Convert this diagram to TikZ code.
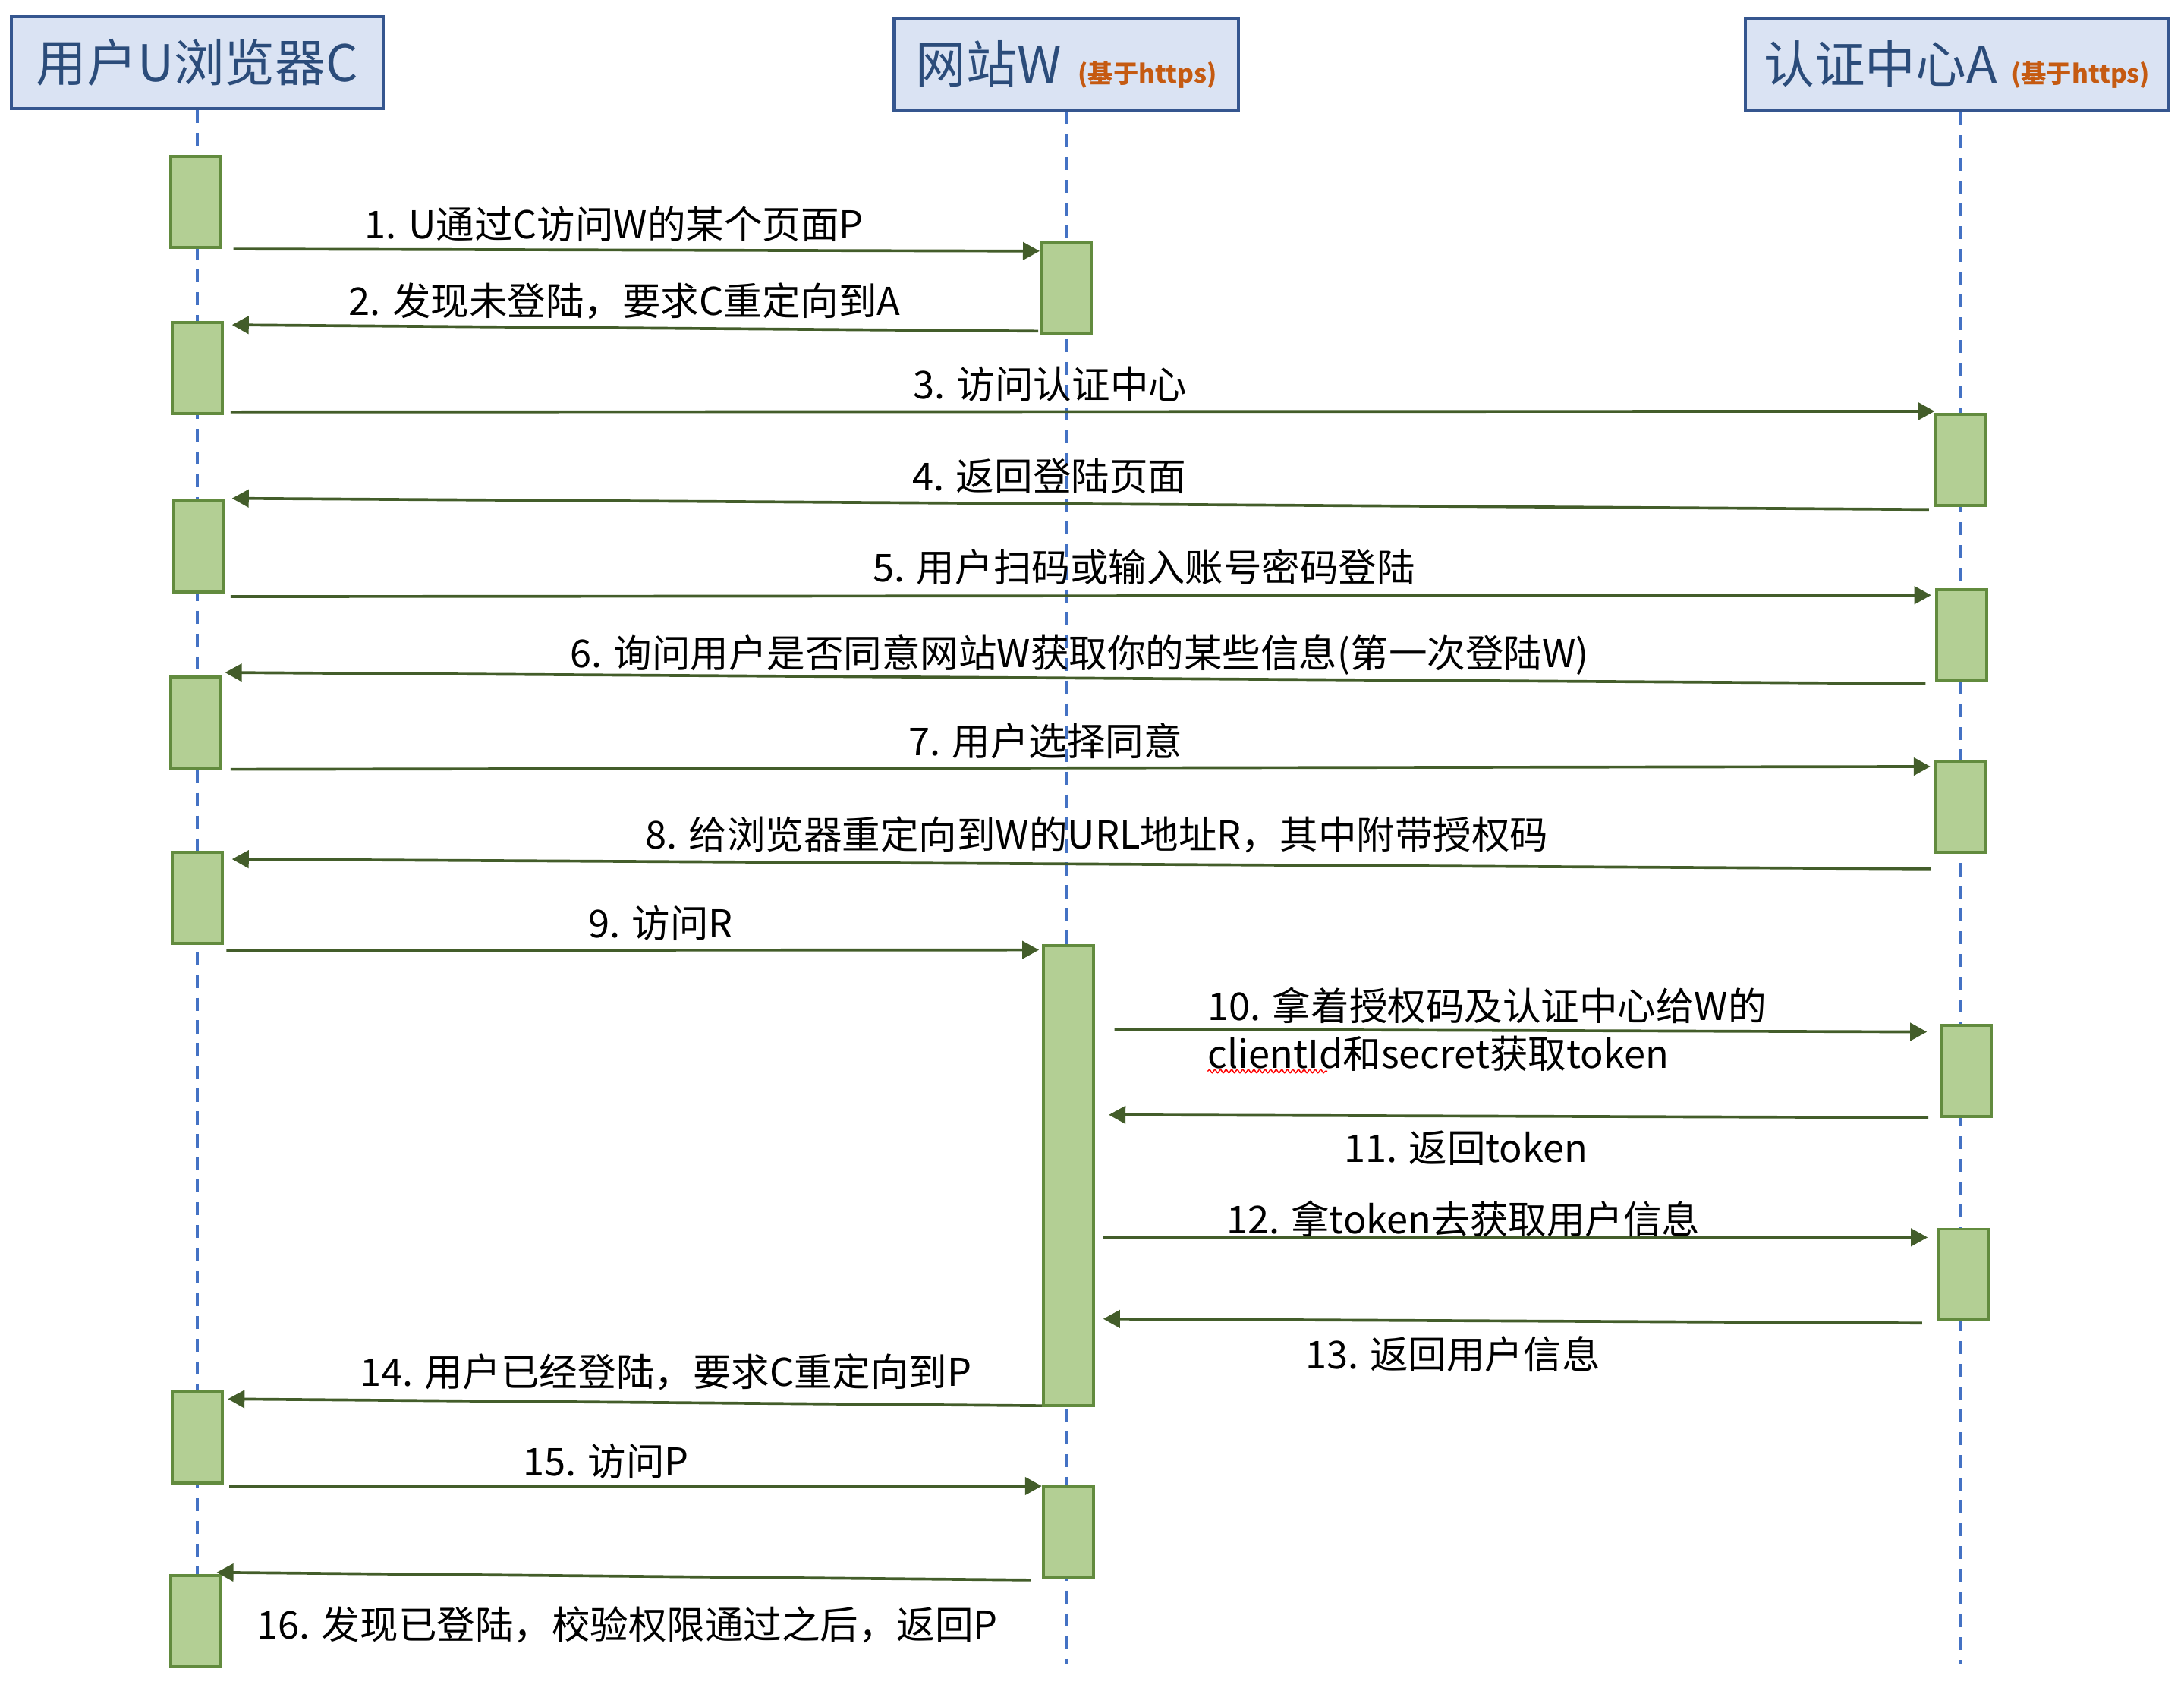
\documentclass[tikz,border=0pt]{standalone}
\usepackage{fontspec}
\setmainfont{Noto Sans CJK SC}
\usepackage{tikz}
\usetikzlibrary{arrows.meta,calc,decorations.pathmorphing}
\definecolor{headfill}{HTML}{DAE3F3}
\definecolor{headline}{HTML}{35568F}
\definecolor{headtext}{HTML}{2B4C7A}
\definecolor{httpsnote}{HTML}{C55A11}
\definecolor{actfill}{HTML}{B3CF94}
\definecolor{actline}{HTML}{628B3E}
\definecolor{msgline}{HTML}{435D2A}
\definecolor{lifeblue}{HTML}{4472C4}
\newcommand\headfont{\fontsize{31}{36}\selectfont}
\newcommand\lblfont{\fontsize{23.5}{29}\selectfont}
\newcommand\viahttps{{\fontsize{15.5}{18}\selectfont\bfseries\color{httpsnote}(基于https)}}
\tikzset{
  headbox/.style={draw=headline,line width=0.7mm,fill=headfill,text=headtext,
                  font=\headfont,minimum height=19.8mm,inner sep=0pt},
  act/.style    ={draw=actline,line width=0.65mm,fill=actfill,
                  minimum width=10.8mm,minimum height=19.6mm,inner sep=0pt},
  life/.style   ={draw=lifeblue,line width=0.65mm,dash pattern=on 2.8mm off 2.1mm},
  msg/.style    ={-{Triangle[length=3.6mm,width=3.8mm]},line width=0.6mm,draw=msgline},
  lbl/.style    ={font=\lblfont,inner sep=0pt,text height=20pt,text depth=2.3pt},
  spell/.style  ={draw=red,line width=0.25mm,decorate,
                  decoration={snake,amplitude=0.35mm,segment length=1.2mm}}
}
\begin{document}
\begin{tikzpicture}[x=0.3mm,y=-0.3mm]
  \useasboundingbox (0,0) rectangle (1568,1216);
  % participants
  \node[headbox,minimum width=80.1mm] (hc) at (141.5,45) {用户U浏览器C};
  \node[headbox,minimum width=74.1mm] (hw) at (765.5,46) {网站W\hspace{3.6mm}\viahttps};
  \node[headbox,minimum width=91.2mm] (ha) at (1405,46.5) {认证中心A\hspace{3mm}\viahttps};
  % lifelines
  \coordinate (bottom) at (0,1195);
  \coordinate (la) at ($(ha.south)+(3,0)$);
  \draw[life] (hc.south) -- (hc.south |- bottom);
  \draw[life] (hw.south) -- (hw.south |- bottom);
  \draw[life] (la) -- (la |- bottom);
  % activations
  \node[act] (c1) at (140.5,145) {};
  \node[act] (c2) at (141.5,264) {};
  \node[act] (c3) at (142.5,392.5) {};
  \node[act] (c4) at (140.5,518.5) {};
  \node[act] (c5) at (141.5,644.5) {};
  \node[act] (c6) at (141.5,1032) {};
  \node[act] (c7) at (140.5,1163.5) {};
  \node[act] (w1) at (765.5,207) {};
  \node[act,minimum height=99mm] (w2) at (767,844) {};
  \node[act] (w3) at (767,1099.5) {};
  \node[act] (a1) at (1408,330) {};
  \node[act] (a2) at (1408.5,456) {};
  \node[act] (a3) at (1408,579) {};
  \node[act] (a4) at (1411.5,768.5) {};
  \node[act] (a5) at (1410,915) {};
  % messages
  \draw[msg] ($(c1.south east)+(8,0)$) -- ($(w1.north west)+(0,7)$);
  \draw[msg] ($(w1.south west)+(-1,-3)$) -- ($(c2.north east)+(6,3)$);
  \draw[msg] ($(c2.south east)+(5,-2)$) -- ($(a1.north west)+(0,-1)$);
  \draw[msg] ($(a1.south west)+(-4,2)$) -- ($(c3.north east)+(5,-1)$);
  \draw[msg] ($(c3.south east)+(4,2)$) -- ($(a2.north west)+(-3,5)$);
  \draw[msg] ($(a2.south west)+(-7,1)$) -- ($(c4.north east)+(2,-2)$);
  \draw[msg] ($(c4.south east)+(6,0)$) -- ($(a3.north west)+(-3,5)$);
  \draw[msg] ($(a3.south west)+(-3,11)$) -- ($(c5.north east)+(6,6)$);
  \draw[msg] ($(c5.south east)+(2,4)$) -- ($(w2.north west)+(-2,4)$);
  \draw[msg] ($(w2.east |- a4.north west)+(14,4)$) -- ($(a4.north west)+(-9,6)$);
  \draw[msg] ($(a4.south west)+(-8,0)$) -- ($(w2.east |- a4.south west)+(10,-2)$);
  \draw[msg] ($(w2.east |- a5.north west)+(6,7)$) -- ($(a5.north west)+(-7,7)$);
  \draw[msg] ($(a5.south west)+(-11,1)$) -- ($(w2.east |- a5.south west)+(6,-2)$);
  \draw[msg] ($(w2.south west)+(0,-1)$) -- ($(c6.north east)+(3,6)$);
  \draw[msg] ($(c6.south east)+(4,1)$) -- ($(w3.north west)+(0,1)$);
  \draw[msg] ($(w3.south west)+(-8,1)$) -- ($(c7.north east)+(-4,-1)$);
  % labels
  \node[lbl] (m1) at (441,161) {1. U通过C访问W的某个页面P};
  \node[lbl] (m2) at (448.5,216) {2. 发现未登陆，要求C重定向到A};
  \node[lbl] (m3) at (754,276) {3. 访问认证中心};
  \node[lbl] (m4) at (753.5,342) {4. 返回登陆页面};
  \node[lbl] (m5) at (821.5,407) {5. 用户扫码或输入账号密码登陆};
  \node[lbl] (m6) at (775,469) {6. 询问用户是否同意网站W获取你的某些信息(第一次登陆W)};
  \node[lbl] (m7) at (750.5,532) {7. 用户选择同意};
  \node[lbl] (m8) at (787.5,599) {8. 给浏览器重定向到W的URL地址R，其中附带授权码};
  \node[lbl] (m9) at (474.5,663) {9. 访问R};
  \node[font=\lblfont,align=left,anchor=west,inner sep=0pt] (m10) at (867,739)
       {10. 拿着授权码及认证中心给W的\\clientId和secret获取token};
  \draw[spell] (867,769) -- (953,769);
  \node[lbl] (m11) at (1052.5,824) {11. 返回token};
  \node[lbl] (m12) at (1050.5,875) {12. 拿token去获取用户信息};
  \node[lbl] (m13) at (1043,972) {13. 返回用户信息};
  \node[lbl] (m14) at (478,985) {14. 用户已经登陆，要求C重定向到P};
  \node[lbl] (m15) at (435,1049) {15. 访问P};
  \node[lbl] (m16) at (450.5,1166) {16. 发现已登陆，校验权限通过之后，返回P};
\end{tikzpicture}
\end{document}
